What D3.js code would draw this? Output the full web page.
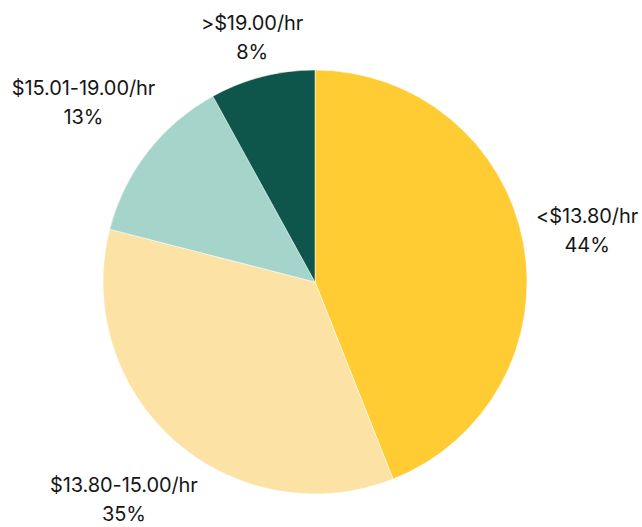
<!DOCTYPE html>
<html>
<head>
<meta charset="utf-8">
<script src="https://cdn.jsdelivr.net/npm/d3@7"></script>
<style>
  body { margin: 0; background: #fff; }
  svg text { font-family: Inter, "Noto Sans", sans-serif; fill: #161616; }
</style>
</head>
<body>
<script>
// wage bands and their share
var categories = ["<$13.80/hr", "$13.80-15.00/hr", "$15.01-19.00/hr", ">$19.00/hr"];
var values = [44, 35, 13, 8];
var colors = ["#ffcc33", "#fce3a5", "#a5d5ca", "#0e554c"];

var width = 642,
    height = 527;

var cx = 315, cy = 282, radius = 212;
// how far out each label sits from the centre
var labelRadius = [277, 289, 293, 253];

var svg = d3.select("body").append("svg")
    .attr("width", width)
    .attr("height", height);

var pie = d3.pie().sort(null).value(function (d) { return d; });
var arcs = pie(values);

var arc = d3.arc().innerRadius(0).outerRadius(radius);

var g = svg.append("g")
    .attr("transform", "translate(" + cx + "," + cy + ")");

g.selectAll("path")
    .data(arcs)
    .enter().append("path")
    .attr("d", arc)
    .attr("fill", function (d, i) { return colors[i]; })
    .attr("stroke", "#fff")
    .attr("stroke-width", 0.5);

var labels = g.selectAll("text.label")
    .data(arcs)
    .enter().append("text")
    .attr("class", "label")
    .attr("text-anchor", "middle")
    .attr("font-size", "20px")
    .attr("letter-spacing", "-0.1px")
    .attr("transform", function (d, i) {
        var a = (d.startAngle + d.endAngle) / 2;
        var r = labelRadius[i];
        return "translate(" + (Math.sin(a) * r) + "," + (-Math.cos(a) * r) + ")";
    });

labels.append("tspan")
    .attr("x", 0)
    .attr("y", -7)
    .text(function (d, i) { return categories[i]; });

labels.append("tspan")
    .attr("x", 0)
    .attr("y", 22)
    .text(function (d) { return d.data + "%"; });
</script>
</body>
</html>
